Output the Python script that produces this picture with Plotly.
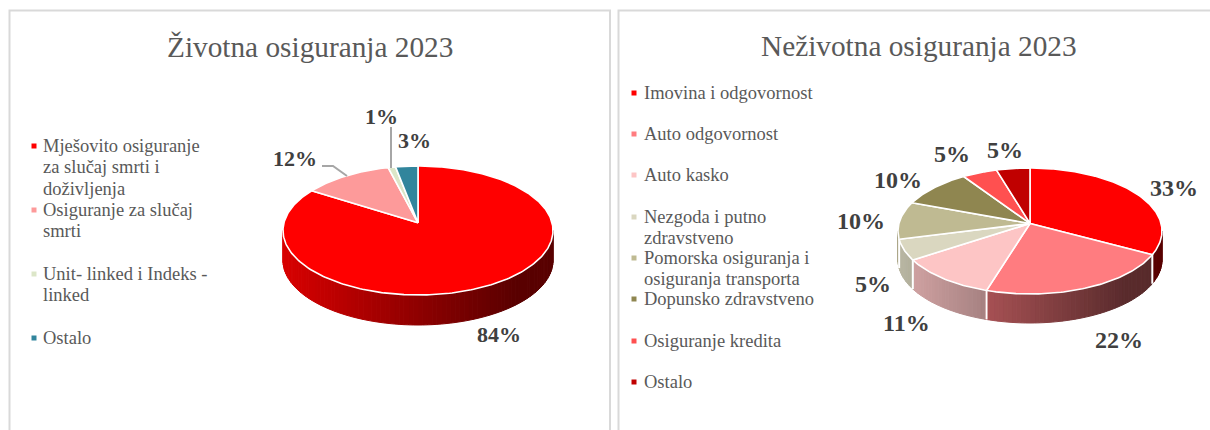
import numpy as np
import plotly.graph_objects as go

W, H = 1210, 430

life_title = "Životna osiguranja 2023"
life_labels = ["Mješovito osiguranje<br>za slučaj smrti i<br>doživljenja", "Osiguranje za slučaj<br>smrti",
               "Unit- linked i Indeks -<br>linked", "Ostalo"]
life_values = [84, 12, 1, 3]
life_colors = ["#ff0000", "#fd9a9a", "#dce6c8", "#31859c"]

nonlife_title = "Neživotna osiguranja 2023"
nonlife_labels = ["Imovina i odgovornost", "Auto odgovornost", "Auto kasko", "Nezgoda i putno<br>zdravstveno",
                  "Pomorska osiguranja i<br>osiguranja transporta", "Dopunsko zdravstveno",
                  "Osiguranje kredita", "Ostalo"]
nonlife_values = [32.9, 21.9, 11, 5.3, 9.6, 10, 4.8, 4.6]
nonlife_colors = ["#ff0000", "#ff7c80", "#fdc5c5", "#dad7c0", "#bfba92", "#8f8650", "#ff5050", "#c00000"]

K = 0.12  # perspective of the tilted disc
TEXT = "#595959"
LABEL = "#404040"
SERIF = "Liberation Serif"


def rgb(h):
    return [int(h[i:i + 2], 16) for i in (1, 3, 5)]


def project(phi):
    """Angle clockwise from the top of the disc -> point on the perspective ellipse."""
    X, Y = np.sin(phi), np.cos(phi)
    den = 1 + K * Y
    return np.sqrt(1 - K * K) * X / den, (Y + K) / den


def unproject(theta):
    u, v = np.sin(theta), np.cos(theta)
    Y = (v - K) / (1 - K * v)
    X = u * (1 + K * Y) / np.sqrt(1 - K * K)
    return np.arctan2(X, Y) % (2 * np.pi)


fig = go.Figure()


def add_pie(values, colors, cx, cy, rx, ry, depth_px, axis):
    xa, ya = f"x{axis}", f"y{axis}"
    pad, low = 1.1, 1.1 + depth_px / ry
    fig.update_layout({
        f"xaxis{axis}": dict(domain=[(cx - pad * rx) / W, (cx + pad * rx) / W], range=[-pad, pad], visible=False,
                             fixedrange=True, anchor=ya),
        f"yaxis{axis}": dict(domain=[1 - (cy + low * ry) / H, 1 - (cy - pad * ry) / H], range=[-low, pad],
                             visible=False, fixedrange=True, anchor=xa),
    })
    vals = np.array(values, float)
    edges = np.concatenate([[0], np.cumsum(vals) / vals.sum()]) * 2 * np.pi
    depth = depth_px / ry

    # wall of the disc: strips shaded from left to right
    thetas = np.linspace(np.pi / 2, 3 * np.pi / 2, 91)
    for a, b in zip(thetas[:-1], thetas[1:]):
        mid = (a + b) / 2
        idx = int(np.searchsorted(edges, unproject(mid)) - 1)
        idx = max(0, min(idx, len(colors) - 1))
        ua, va, ub, vb = np.sin(a), np.cos(a), np.sin(b), np.cos(b)
        t = (np.sin(mid) + 1) / 2
        shade = max(0.35, 0.85 - 0.58 * t)
        col = "rgb(%d,%d,%d)" % tuple(int(c * shade) for c in rgb(colors[idx]))
        fig.add_trace(go.Scatter(x=[ua, ub, ub, ua, ua], y=[va, vb, vb - depth, va - depth, va], mode="lines",
                                 fill="toself", fillcolor=col, line=dict(color=col, width=1), hoverinfo="skip",
                                 showlegend=False, xaxis=xa, yaxis=ya))
    # white seams on the wall
    for e in edges[:-1]:
        u, v = project(e)
        if v < 0.02:
            fig.add_trace(go.Scatter(x=[u, u], y=[v, v - depth], mode="lines", line=dict(color="white", width=2),
                                     hoverinfo="skip", showlegend=False, xaxis=xa, yaxis=ya))
    # top face
    for i, col in enumerate(colors):
        phi = np.linspace(edges[i], edges[i + 1], max(3, int((edges[i + 1] - edges[i]) * 60)))
        u, v = project(phi)
        fig.add_trace(go.Scatter(x=np.r_[0, u, 0], y=np.r_[K, v, K], mode="lines", fill="toself", fillcolor=col,
                                 line=dict(color="white", width=1.6), hoverinfo="skip", showlegend=False,
                                 xaxis=xa, yaxis=ya))


add_pie(life_values, life_colors, 418, 230.5, 135, 64.5, 30, "")
add_pie(nonlife_values, nonlife_colors, 1030, 231, 132, 63, 29, "2")

ann, shapes = [], []


def px_text(x, y, text, size, color, bold=False, anchor="center"):
    ann.append(dict(x=x / W, y=1 - y / H, xref="paper", yref="paper", text=f"<b>{text}</b>" if bold else text,
                    showarrow=False, xanchor=anchor, yanchor="middle", align="left", borderpad=0,
                    font=dict(family=SERIF, size=size, color=color)))


def px_line(pts, color, width):
    path = "M " + " L ".join(f"{x / W:.5f},{1 - y / H:.5f}" for x, y in pts)
    shapes.append(dict(type="path", path=path, xref="paper", yref="paper", line=dict(color=color, width=width)))


# panels
px_line([(9.5, 432), (9.5, 10.5), (610, 10.5), (610, 432)], "#d9d9d9", 2)
px_line([(618.5, 432), (618.5, 10.5), (1212, 10.5)], "#d9d9d9", 2)

px_text(310, 47, life_title, 29.3, TEXT)
px_text(919, 46, nonlife_title, 29.3, TEXT)

# legends: first-line height of every entry; further lines follow at a fixed pitch
life_mark = [146, 210, 274, 338]
nonlife_mark = [93, 134, 175, 217, 258, 299, 341, 382]
LINE = 21.3
for labels, colors, marks, mx, tx in [(life_labels, life_colors, life_mark, 34, 42),
                                      (nonlife_labels, nonlife_colors, nonlife_mark, 634, 643)]:
    for lab, col, m in zip(labels, colors, marks):
        for j, part in enumerate(lab.split("<br>")):
            px_text(tx, m + j * LINE, part, 18.5, TEXT, anchor="left")
        shapes.append(dict(type="rect", xref="paper", yref="paper", x0=(mx - 2.5) / W, x1=(mx + 2.5) / W,
                           y0=1 - (m + 2.5) / H, y1=1 - (m - 2.5) / H, fillcolor=col, line=dict(width=0)))

# data labels
life_pos = [(499, 334), (295, 159), (381, 116), (414, 141)]
nonlife_pos = [(1174, 188), (1119, 340), (906, 323), (873, 284), (861, 221), (898, 180), (952, 154), (1005, 150)]
for vals, pos, size in [(life_values, life_pos, 22), (nonlife_values, nonlife_pos, 24)]:
    for v, (x, y) in zip(vals, pos):
        px_text(x, y, f"{v:.0f}%", size, LABEL, bold=True)

# leader lines
px_line([(391, 127), (391, 168)], "#a6a6a6", 2)
px_line([(322, 166), (333, 166), (347, 176)], "#a6a6a6", 2)

fig.update_layout(width=W, height=H, margin=dict(l=0, r=0, t=0, b=0), paper_bgcolor="white", plot_bgcolor="rgba(0,0,0,0)",
                  showlegend=False, annotations=ann, shapes=shapes)
fig.write_html("out.html", config={"displayModeBar": False},
               post_script="document.body.style.margin='0';document.body.style.overflow='hidden';")
